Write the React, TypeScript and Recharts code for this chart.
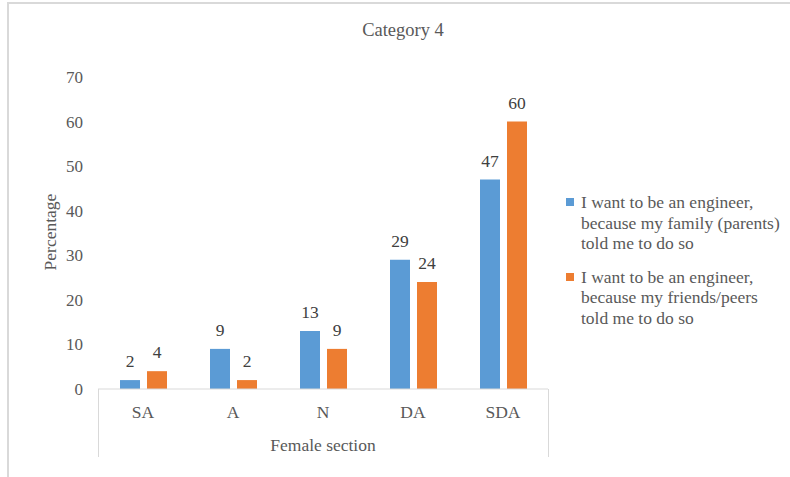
import React from "react";
import { Bar, BarChart, Label, LabelList, XAxis, YAxis } from "recharts";

const categories = ["SA", "A", "N", "DA", "SDA"];
const familyValues = [2, 9, 13, 29, 47];
const friendsValues = [4, 2, 9, 24, 60];
const yTicks = [0, 10, 20, 30, 40, 50, 60, 70];

const familyLines = ["I want to be an engineer,", "because my family (parents)", "told me to do so"];
const friendsLines = ["I want to be an engineer,", "because my friends/peers", "told me to do so"];

const BLUE = "#5b9bd5";
const ORANGE = "#ed7d31";
const INK = "#595959";
const RULE = "#d9d9d9";
const FONT = "Liberation Serif, DejaVu Serif, serif";

const rows = categories.map((c, i) => ({
  cat: c,
  family: familyValues[i],
  friends: friendsValues[i],
}));

const legendItems = [
  { color: BLUE, lines: familyLines },
  { color: ORANGE, lines: friendsLines },
];

// Legend sits to the right of the plot, drawn as plain HTML so it takes no plot space.
const ChartLegend = () => (
  <div
    style={{
      position: "absolute",
      left: 566,
      top: 192,
      width: 224,
      fontFamily: FONT,
      fontSize: 17.5,
      color: INK,
      lineHeight: "20.5px",
    }}
  >
    {legendItems.map((item, i) => (
      <div key={i} style={{ position: "relative", paddingLeft: 15, marginBottom: i === 0 ? 13 : 0 }}>
        <span
          style={{
            position: "absolute",
            left: 0,
            top: 6,
            width: 8,
            height: 8,
            background: item.color,
          }}
        />
        {item.lines.map((l) => (
          <div key={l} style={{ whiteSpace: "nowrap" }}>{l}</div>
        ))}
      </div>
    ))}
  </div>
);

const xTick = { fontSize: 17.5, fill: INK, fontFamily: FONT };
const yTick = { fontSize: 17, fill: INK, fontFamily: FONT };
const valueLabel = { fontSize: 17.5, fill: "#404040", fontFamily: FONT };

export default function App() {
  return (
    <div
      style={{
        position: "absolute",
        left: 0,
        top: 0,
        width: 790,
        height: 477,
        overflow: "hidden",
        background: "#fff",
        fontFamily: FONT,
      }}
    >
      {/* outer frame, top and left edges only */}
      <div
        style={{
          position: "absolute",
          left: 7,
          top: 2,
          width: 800,
          height: 500,
          borderTop: `2px solid ${RULE}`,
          borderLeft: `2px solid ${RULE}`,
        }}
      />
      <div
        style={{
          position: "absolute",
          left: 0,
          width: 806,
          top: 20,
          textAlign: "center",
          fontSize: 18.5,
          color: INK,
        }}
      >
        Category 4
      </div>
      {/* category box sides under the axis */}
      <div style={{ position: "absolute", left: 98, top: 389, width: 1, height: 68, background: RULE }} />
      <div style={{ position: "absolute", left: 548, top: 389, width: 1, height: 68, background: RULE }} />
      <div
        style={{
          position: "absolute",
          left: 98,
          width: 450,
          top: 435,
          textAlign: "center",
          fontSize: 17.5,
          color: INK,
        }}
      >
        Female section
      </div>
      <ChartLegend />
      <BarChart
        width={790}
        height={477}
        data={rows}
        margin={{ top: 77, right: 242, bottom: 58, left: 0 }}
        barSize={20}
        barGap={7}
        style={{ position: "absolute", left: 0, top: 0 }}
      >
        <XAxis
          dataKey="cat"
          axisLine={{ stroke: RULE }}
          tickLine={false}
          tickSize={0}
          tickMargin={17}
          tick={xTick}
          height={30}
        />
        <YAxis
          domain={[0, 70]}
          ticks={yTicks}
          axisLine={false}
          tickLine={false}
          tickMargin={9}
          tick={yTick}
          width={98}
        >
          <Label
            content={() => (
              <text
                x={50}
                y={232}
                transform="rotate(-90 50 232)"
                textAnchor="middle"
                dominantBaseline="central"
                fontSize={17.5}
                fill={INK}
                fontFamily={FONT}
              >
                Percentage
              </text>
            )}
          />
        </YAxis>
        <Bar dataKey="family" fill={BLUE} isAnimationActive={false}>
          <LabelList dataKey="family" position="top" offset={13} style={valueLabel} />
        </Bar>
        <Bar dataKey="friends" fill={ORANGE} isAnimationActive={false}>
          <LabelList dataKey="friends" position="top" offset={13} style={valueLabel} />
        </Bar>
      </BarChart>
    </div>
  );
}
